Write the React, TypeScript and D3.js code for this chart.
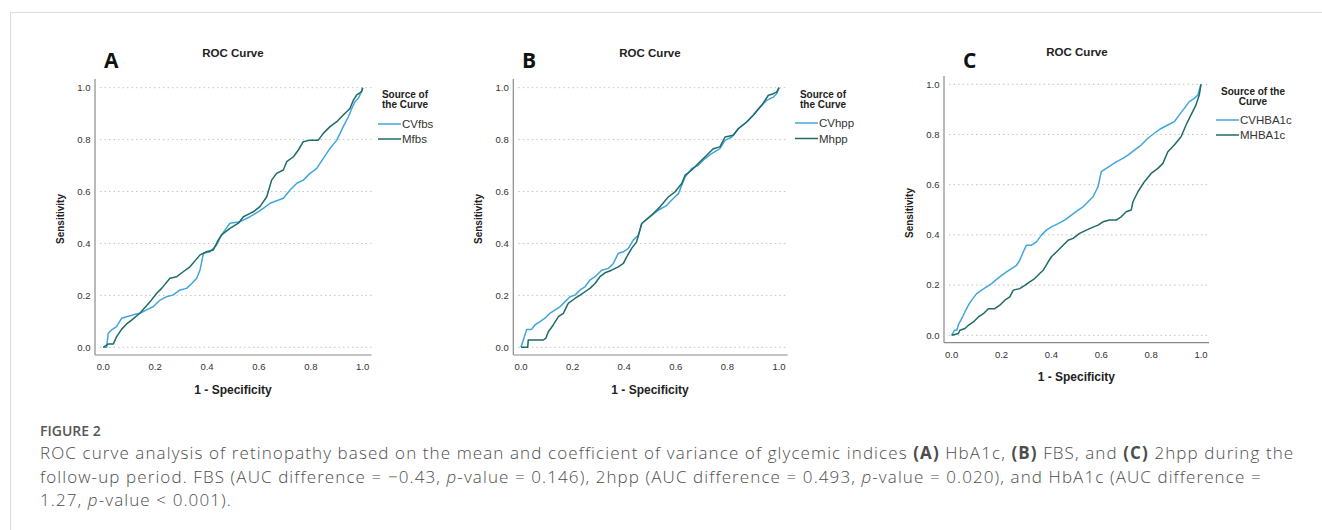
import React from 'react'
import * as d3 from 'd3'

type Pt = [number, number]

// ROC points: [1 - specificity, sensitivity]
const cvfbs: Pt[] = [
  [0, 0], [0.013, 0], [0.019, 0.054], [0.032, 0.067], [0.051, 0.08], [0.071, 0.112],
  [0.09, 0.118], [0.116, 0.125], [0.141, 0.131], [0.167, 0.144], [0.193, 0.157],
  [0.219, 0.182], [0.244, 0.195], [0.27, 0.202], [0.296, 0.221], [0.321, 0.227],
  [0.341, 0.246], [0.36, 0.266], [0.373, 0.298], [0.386, 0.362], [0.411, 0.368],
  [0.437, 0.394], [0.456, 0.433], [0.488, 0.478], [0.527, 0.484], [0.566, 0.503],
  [0.617, 0.535], [0.643, 0.555], [0.694, 0.574], [0.72, 0.606], [0.746, 0.632],
  [0.771, 0.644], [0.797, 0.67], [0.823, 0.689], [0.848, 0.728], [0.874, 0.766],
  [0.9, 0.798], [0.913, 0.824], [0.925, 0.85], [0.945, 0.888], [0.958, 0.92],
  [0.97, 0.946], [0.983, 0.959], [0.992, 0.978], [1, 1],
]
const mfbs: Pt[] = [
  [0, 0], [0.019, 0.013], [0.039, 0.013], [0.051, 0.04], [0.071, 0.07], [0.09, 0.09],
  [0.109, 0.105], [0.141, 0.131], [0.18, 0.175], [0.206, 0.208], [0.225, 0.227],
  [0.257, 0.266], [0.283, 0.272], [0.308, 0.291], [0.334, 0.31], [0.373, 0.356],
  [0.398, 0.368], [0.424, 0.375], [0.443, 0.413], [0.456, 0.433], [0.488, 0.458],
  [0.521, 0.478], [0.54, 0.503], [0.566, 0.516], [0.578, 0.522], [0.604, 0.542],
  [0.63, 0.58], [0.649, 0.644], [0.668, 0.67], [0.694, 0.683], [0.707, 0.715],
  [0.733, 0.734], [0.752, 0.76], [0.771, 0.792], [0.797, 0.798], [0.829, 0.798],
  [0.848, 0.824], [0.874, 0.85], [0.9, 0.869], [0.925, 0.895], [0.951, 0.92],
  [0.964, 0.952], [0.977, 0.972], [0.996, 0.985], [1, 1],
]
const cvhpp: Pt[] = [
  [0, 0], [0.013, 0.041], [0.022, 0.069], [0.041, 0.069], [0.054, 0.086], [0.074, 0.099],
  [0.093, 0.112], [0.112, 0.131], [0.132, 0.144], [0.151, 0.156], [0.171, 0.176],
  [0.19, 0.195], [0.209, 0.201], [0.229, 0.221], [0.248, 0.233], [0.267, 0.259],
  [0.287, 0.272], [0.313, 0.297], [0.339, 0.304], [0.358, 0.323], [0.377, 0.362],
  [0.397, 0.368], [0.416, 0.381], [0.435, 0.413], [0.455, 0.432], [0.468, 0.477],
  [0.5, 0.503], [0.532, 0.528], [0.565, 0.547], [0.59, 0.573], [0.61, 0.592],
  [0.636, 0.656], [0.661, 0.688], [0.687, 0.701], [0.713, 0.727], [0.739, 0.746],
  [0.771, 0.765], [0.791, 0.797], [0.817, 0.81], [0.842, 0.842], [0.868, 0.862],
  [0.9, 0.894], [0.926, 0.926], [0.952, 0.951], [0.978, 0.964], [0.991, 0.977], [1, 1],
]
const mhpp: Pt[] = [
  [0, 0], [0.026, 0], [0.028, 0.028], [0.087, 0.028], [0.096, 0.035], [0.106, 0.06],
  [0.125, 0.086], [0.145, 0.118], [0.164, 0.131], [0.183, 0.169], [0.209, 0.188],
  [0.229, 0.201], [0.248, 0.214], [0.267, 0.227], [0.287, 0.246], [0.306, 0.272],
  [0.326, 0.287], [0.351, 0.297], [0.377, 0.31], [0.397, 0.323], [0.41, 0.349],
  [0.429, 0.381], [0.448, 0.406], [0.468, 0.477], [0.506, 0.509], [0.539, 0.541],
  [0.571, 0.579], [0.597, 0.599], [0.623, 0.631], [0.636, 0.663], [0.661, 0.682],
  [0.687, 0.708], [0.72, 0.74], [0.745, 0.765], [0.771, 0.772], [0.791, 0.81],
  [0.823, 0.817], [0.842, 0.842], [0.875, 0.868], [0.9, 0.894], [0.933, 0.932],
  [0.959, 0.971], [0.978, 0.977], [0.991, 0.983], [1, 1],
]
const cvhba1c: Pt[] = [
  [0, 0], [0.011, 0.02], [0.02, 0.02], [0.029, 0.047], [0.04, 0.066], [0.053, 0.093],
  [0.067, 0.12], [0.08, 0.14], [0.1, 0.166], [0.12, 0.18], [0.14, 0.193], [0.16, 0.206],
  [0.18, 0.223], [0.2, 0.239], [0.22, 0.253], [0.24, 0.266], [0.26, 0.279], [0.273, 0.299],
  [0.287, 0.332], [0.3, 0.359], [0.32, 0.359], [0.34, 0.372], [0.36, 0.399], [0.38, 0.419],
  [0.4, 0.432], [0.427, 0.445], [0.453, 0.459], [0.48, 0.479], [0.507, 0.499],
  [0.527, 0.512], [0.547, 0.532], [0.567, 0.552], [0.587, 0.592], [0.6, 0.652],
  [0.62, 0.665], [0.64, 0.678], [0.66, 0.691], [0.687, 0.705], [0.707, 0.718],
  [0.733, 0.738], [0.76, 0.758], [0.787, 0.785], [0.813, 0.805], [0.84, 0.824],
  [0.867, 0.838], [0.893, 0.851], [0.913, 0.878], [0.933, 0.904], [0.953, 0.931],
  [0.973, 0.944], [0.987, 0.957], [1, 1],
]
const mhba1c: Pt[] = [
  [0, 0], [0.027, 0.007], [0.033, 0.02], [0.053, 0.027], [0.067, 0.04], [0.087, 0.053],
  [0.107, 0.073], [0.127, 0.086], [0.147, 0.106], [0.173, 0.106], [0.193, 0.12],
  [0.213, 0.14], [0.233, 0.153], [0.247, 0.18], [0.273, 0.186], [0.293, 0.199],
  [0.313, 0.213], [0.333, 0.226], [0.353, 0.246], [0.367, 0.259], [0.387, 0.293],
  [0.4, 0.313], [0.42, 0.332], [0.447, 0.359], [0.467, 0.379], [0.487, 0.386],
  [0.513, 0.406], [0.54, 0.419], [0.56, 0.428], [0.587, 0.439], [0.607, 0.452],
  [0.633, 0.459], [0.66, 0.459], [0.68, 0.472], [0.7, 0.492], [0.72, 0.499],
  [0.727, 0.532], [0.747, 0.572], [0.773, 0.612], [0.8, 0.645], [0.827, 0.665],
  [0.847, 0.685], [0.867, 0.731], [0.893, 0.758], [0.92, 0.791], [0.94, 0.838],
  [0.96, 0.878], [0.98, 0.918], [0.993, 0.957], [1, 1],
]

const tickValues = [0, 0.2, 0.4, 0.6, 0.8, 1.0]
const panelLetters = ['A', 'B', 'C']
const legendNames = [['CVfbs', 'Mfbs'], ['CVhpp', 'Mhpp'], ['CVHBA1c', 'MHBA1c']]
const legendTitles = [['Source of', 'the Curve'], ['Source of', 'the Curve'], ['Source of the', 'Curve']]
const panelData = [[cvfbs, mfbs], [cvhpp, mhpp], [cvhba1c, mhba1c]]

const lineColors = ['#41a6dc', '#1f6b66']
const sans = 'Arial, "Liberation Sans", sans-serif'

// layout of each panel in page pixels
const layouts = [
  { axisX: 95, x0: 103.3, x1: 362.7, gridR: 371.5, y0: 347.3, y1: 87.7, top: 79, bottom: 355,
    tickY: 367, xTitleY: 390, yTitleX: 60, yTitleY: 219, letterX: 104, titleX: 233, titleY: 53,
    legTitleX: 405, legTitleY: 94.5, legX: 378, legY: 124, legDy: 15 },
  { axisX: 513.3, x0: 521, x1: 779, gridR: 787.7, y0: 347.3, y1: 87.7, top: 79, bottom: 355,
    tickY: 367, xTitleY: 390, yTitleX: 478, yTitleY: 219, letterX: 522, titleX: 650, titleY: 53,
    legTitleX: 823, legTitleY: 94.5, legX: 795, legY: 123, legDy: 15.5 },
  { axisX: 944, x0: 951.7, x1: 1201, gridR: 1209, y0: 335.3, y1: 84.3, top: 76, bottom: 342.7,
    tickY: 354.5, xTitleY: 377, yTitleX: 909, yTitleY: 213, letterX: 963, titleX: 1077, titleY: 52,
    legTitleX: 1253, legTitleY: 91.5, legX: 1216, legY: 120, legDy: 15 },
]

const Panel = ({ i }: { i: number }) => {
  const L = layouts[i]
  const x = d3.scaleLinear().domain([0, 1]).range([L.x0, L.x1])
  const y = d3.scaleLinear().domain([0, 1]).range([L.y0, L.y1])
  const line = d3.line<Pt>().x((d) => x(d[0])).y((d) => y(d[1]))
  const fmt = d3.format('.1f')
  return (
    <g>
      <text x={L.letterX} y={68} fontFamily='"Open Sans", sans-serif' fontWeight={700} fontSize={21} fill="#111">
        {panelLetters[i]}
      </text>
      <text x={L.titleX} y={L.titleY} dy="0.35em" textAnchor="middle" fontFamily={sans} fontWeight={700} fontSize={11.5} fill="#222">
        ROC Curve
      </text>
      {tickValues.map((t) => (
        <line key={'g' + t} x1={L.axisX + 5} x2={L.gridR} y1={y(t)} y2={y(t)} stroke="#c4c4c4" strokeWidth={1} strokeDasharray="1.5,3" />
      ))}
      <line x1={L.axisX} x2={L.axisX} y1={L.top} y2={L.bottom} stroke="#8a8a8a" strokeWidth={1.2} />
      <line x1={L.axisX} x2={L.gridR} y1={L.bottom} y2={L.bottom} stroke="#8a8a8a" strokeWidth={1.2} />
      {tickValues.map((t) => (
        <text key={'y' + t} x={L.axisX - 4.5} y={y(t)} dy="0.35em" textAnchor="end" fontFamily={sans} fontSize={9.5} fill="#333">
          {fmt(t)}
        </text>
      ))}
      {tickValues.map((t) => (
        <text key={'x' + t} x={x(t)} y={L.tickY} dy="0.35em" textAnchor="middle" fontFamily={sans} fontSize={9.5} fill="#333">
          {fmt(t)}
        </text>
      ))}
      <text x={(L.x0 + L.x1) / 2} y={L.xTitleY} dy="0.35em" textAnchor="middle" fontFamily={sans} fontWeight={700} fontSize={12} fill="#222">
        1 - Specificity
      </text>
      <text transform={`translate(${L.yTitleX},${L.yTitleY}) rotate(-90)`} dy="0.35em" textAnchor="middle" fontFamily={sans} fontWeight={700} fontSize={10} fill="#222">
        Sensitivity
      </text>
      {panelData[i].map((s, k) => (
        <path key={'s' + k} d={line(s) || ''} fill="none" stroke={lineColors[k]} strokeWidth={1.5} strokeLinejoin="round" />
      ))}
      {legendTitles[i].map((t, k) => (
        <text key={'lt' + k} x={L.legTitleX} y={L.legTitleY + k * 9.8} dy="0.35em" textAnchor="middle" fontFamily={sans} fontWeight={700} fontSize={10} fill="#222">
          {t}
        </text>
      ))}
      {legendNames[i].map((n, k) => (
        <g key={'l' + k}>
          <line x1={L.legX} x2={L.legX + 23} y1={L.legY + k * L.legDy} y2={L.legY + k * L.legDy} stroke={lineColors[k]} strokeWidth={1.5} />
          <text x={L.legX + 24} y={L.legY + k * L.legDy} dy="0.35em" fontFamily={sans} fontSize={11.5} fill="#333">
            {n}
          </text>
        </g>
      ))}
    </g>
  )
}

const capFont = '"Open Sans", "Noto Sans", sans-serif'

export default function App() {
  return (
    <div>
      <style>{'body{margin:0}'}</style>
      <svg width={1322} height={530} style={{ display: 'block', background: '#fff' }}>
        <path d="M10.5,530 V12.5 H1322" fill="none" stroke="#dcdcdc" strokeWidth={1} />
        {[0, 1, 2].map((i) => (
          <Panel key={i} i={i} />
        ))}
        <text x={40} y={436} fontFamily={capFont} fontWeight={600} fontSize={14} fill="#555">
          FIGURE 2
        </text>
        <g fontFamily={capFont} fontWeight={300} fontSize={17} fill="#4d4d4d" style={{ letterSpacing: '1.1px' }}>
          <text x={40} y={459}>
            ROC curve analysis of retinopathy based on the mean and coefficient of variance of glycemic indices{' '}
            <tspan fontWeight={700}>(A)</tspan> HbA1c, <tspan fontWeight={700}>(B)</tspan> FBS, and{' '}
            <tspan fontWeight={700}>(C)</tspan> 2hpp during the
          </text>
          <text x={40} y={482.5}>
            follow-up period. FBS (AUC difference = −0.43, <tspan fontStyle="italic">p</tspan>-value = 0.146), 2hpp (AUC
            difference = 0.493, <tspan fontStyle="italic">p</tspan>-value = 0.020), and HbA1c (AUC difference =
          </text>
          <text x={40} y={506}>
            1.27, <tspan fontStyle="italic">p</tspan>-value {'<'} 0.001).
          </text>
        </g>
      </svg>
    </div>
  )
}
